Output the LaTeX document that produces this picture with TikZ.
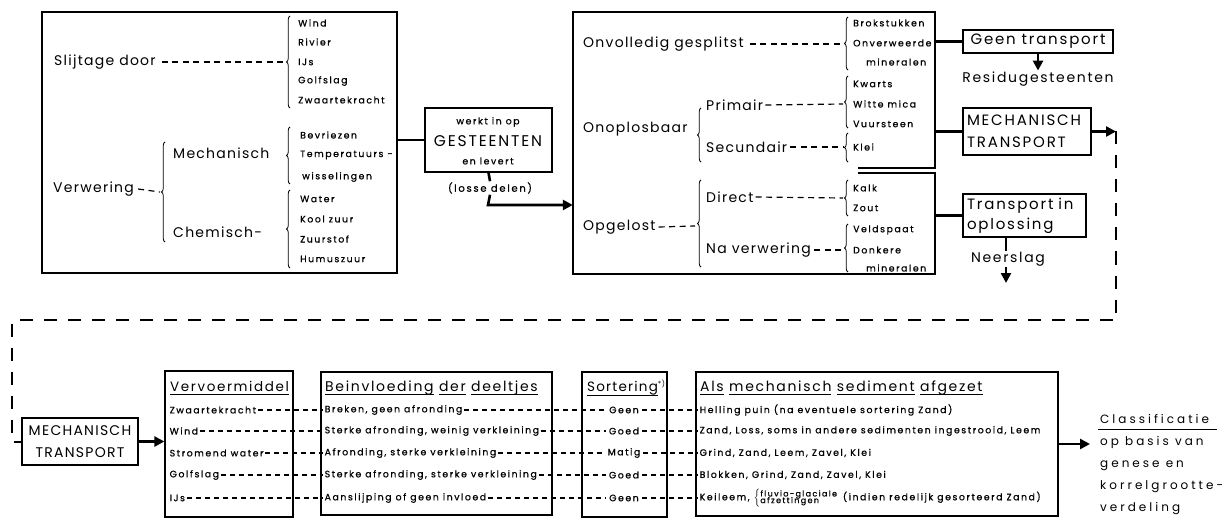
\documentclass[tikz,border=0pt]{standalone}
\usepackage{fontspec}
\setmainfont{Poppins}
\newfontfamily\lblf[LetterSpace=9]{Poppins}
\newfontfamily\hdrf[LetterSpace=12]{Poppins}
\newfontfamily\smlf[LetterSpace=17,FakeBold=0.8]{Poppins}
\newfontfamily\clsf[LetterSpace=25]{Poppins}
\newcommand{\uln}[1]{\setbox0\hbox{#1}\rlap{\rule[-4pt]{\wd0}{0.9pt}}\box0}
\usetikzlibrary{arrows.meta,decorations.pathreplacing}
\tikzset{
  lab/.style={inner sep=0pt, anchor=west, font=\lblf\fontsize{14}{16}\selectfont},
  itm/.style={inner sep=0pt, anchor=west, font=\smlf\fontsize{9.3}{11}\selectfont},
  row/.style={inner sep=1.5pt, anchor=west, font=\smlf\fontsize{9.3}{11}\selectfont},
  hdr/.style={inner sep=0pt, anchor=west, font=\hdrf\fontsize{14}{16}\selectfont},
  tbox/.style={draw, line width=1.3pt, inner sep=0pt, font=\hdrf\fontsize{15}{17}\selectfont},
  box/.style={draw, line width=1.3pt, inner sep=0pt},
  conn/.style={line width=2.6pt},
  arr/.style={line width=2.6pt, -{Triangle[length=10pt,width=10pt]}},
  dsh/.style={line width=1.2pt, dash pattern=on 6pt off 4.5pt},
  rdsh/.style={line width=1.1pt, dash pattern=on 5pt off 4pt},
  brc/.style={decorate, decoration={brace, amplitude=3.5pt}, line width=0.8pt},
  bigdash/.style={line width=2pt, dash pattern=on 13pt off 11pt},
}
\begin{document}
\begin{tikzpicture}[x=1pt,y=-1pt]
\useasboundingbox (0,0) rectangle (1225,521);

% ---------- Box 1 ----------
\node[box, minimum width=355, minimum height=261] (b1) at (219.5,142.5) {};
\node[lab] (slij) at (54,62) {Slijtage door};
\coordinate (br1) at (285,62);
\draw[dsh] (slij.east) ++(6,0) -- (br1);
\draw[brc] (290,108) -- (290,16);
\node[itm] (w1) at (298,23) {Wind};
\node[itm] (w2) at (298,42) {Rivier};
\node[itm] (w3) at (298,62) {IJs};
\node[itm] (w4) at (298,81) {Golfslag};
\node[itm] (w5) at (298,100) {Zwaartekracht};

\node[lab] (verw) at (53,189) {Verwering};
\coordinate (br2) at (160,192);
\draw[dsh] (verw.east) ++(4,0) -- (br2);
\draw[brc] (165,242) -- (165,142);
\node[lab] (mech) at (173,153) {Mechanisch};
\node[lab] (chem) at (173,232) {Chemisch-};
\draw[brc] (290,184) -- (290,127);
\node[itm] (m1) at (300,135) {Bevriezen};
\node[itm] (m2) at (300,155) {Temperatuurs -};
\node[itm] (m3) at (302,177) {wisselingen};
\draw[brc] (290,268) -- (290,190);
\node[itm] (c1i) at (300,199) {Water};
\node[itm] (c2i) at (300,219) {Kool zuur};
\node[itm] (c3i) at (300,239) {Zuurstof};
\node[itm] (c4i) at (300,259) {Humuszuur};

% ---------- GESTEENTEN ----------
\node[box, minimum width=127, minimum height=64] (gest) at (488.5,140) {};
\node[inner sep=0pt, font=\smlf\fontsize{9.3}{11}\selectfont] (g1) at (488,122) {werkt in op};
\node[inner sep=0pt, font=\hdrf\fontsize{15.5}{17}\selectfont] (g2) at (488,141) {GESTEENTEN};
\node[inner sep=0pt, font=\smlf\fontsize{9.3}{11}\selectfont] (g3) at (488,161) {en levert};
\draw[conn] (b1.east |- gest.west) -- (gest.west);
\node[inner sep=1pt, font=\smlf\fontsize{10}{11}\selectfont] (losse) at (490,188) {(losse delen)};

% ---------- Box 2 ----------
\node[inner sep=0pt, minimum width=362, minimum height=262] (b2) at (754,143) {};
\draw[line width=1.3pt] (858,168) -- (935,168) -- (935,12) -- (573,12) -- (573,274) -- (935,274) -- (935,173) -- (858,173);
\coordinate (lossebend) at (488,205);
\draw[conn] (gest.south) -- (losse.north);
\draw[arr] (losse.south) -- (lossebend) -- (b2.west |- lossebend);

\node[lab] (onv) at (583,44) {Onvolledig gesplitst};
\coordinate (br3) at (843,44);
\draw[dsh] (onv.east) ++(6,0) -- (br3);
\draw[brc] (848,70) -- (848,17);
\node[itm] (o1) at (853,23) {Brokstukken};
\node[itm] (o2) at (853,43) {Onverweerde};
\node[itm] (o3) at (866,62) {mineralen};

\node[lab] (onop) at (583,129) {Onoplosbaar};
\draw[brc] (701,162) -- (701,108);
\node[lab] (prim) at (706,105) {Primair};
\coordinate (br4) at (843,104);
\draw[dsh] (prim.east) ++(2,0) -- (br4);
\draw[brc] (848,128) -- (848,76);
\node[itm] (p1) at (853,84) {Kwarts};
\node[itm] (p2) at (853,104) {Witte mica};
\node[itm] (p3) at (853,124) {Vuursteen};
\node[lab] (sec) at (706,147) {Secundair};
\coordinate (br5) at (843,147);
\draw[dsh] (sec.east) ++(3,0) -- (br5);
\draw[brc] (848,162) -- (848,133);
\node[itm] (s1) at (853,147) {Klei};

\node[lab] (opg) at (583,227) {Opgelost};
\coordinate (br6) at (695,226);
\draw[dsh] (opg.east) ++(3,0) -- (br6);
\draw[brc] (701,267) -- (701,180);
\node[lab] (dir) at (706,197) {Direct};
\coordinate (br7) at (843,198);
\draw[dsh] (dir.east) ++(2,0) -- (br7);
\draw[brc] (848,216) -- (848,180);
\node[itm] (d1) at (853,188) {Kalk};
\node[itm] (d2) at (853,208) {Zout};
\node[lab] (nav) at (706,250) {Na verwering};
\coordinate (br8) at (843,250);
\draw[dsh] (nav.east) ++(3,0) -- (br8);
\draw[brc] (848,272) -- (848,224);
\node[itm] (n1) at (853,230) {Veldspaat};
\node[itm] (n2) at (853,250) {Donkere};
\node[itm] (n3) at (866,268) {mineralen};

% ---------- Right column ----------
\node[tbox, minimum width=150, minimum height=23] (geen) at (1038,41.5) {Geen transport};
\draw[conn] (b2.east |- geen.west) -- (geen.west);
\node[inner sep=1pt, font=\hdrf\fontsize{14}{16}\selectfont] (resid) at (1038,79) {Residugesteenten};
\draw[arr] (geen.south) -- (resid.north);

\node[tbox, minimum width=128, minimum height=47, align=left, text width=120] (mt1) at (1027,131.5) {MECHANISCH\\[5pt]TRANSPORT};
\draw[conn] (b2.east |- mt1.west) -- (mt1.west);

\node[tbox, minimum width=123, minimum height=43, align=left, text width=115] (tio) at (1024.5,215.5) {Transport in\\[3pt]oplossing};
\draw[conn] (b2.east |- tio.west) -- (tio.west);
\node[inner sep=1pt, font=\hdrf\fontsize{14}{16}\selectfont] (neer) at (1008,259) {Neerslag};
\coordinate (neerend) at (1006,283);
\draw[conn] (tio.south -| neerend) -- (neer.north -| neerend);
\draw[arr] (neer.south -| neerend) -- (neerend);

% ---------- dashed route ----------
\node[box, minimum width=116, minimum height=47, align=center, font=\lblf\fontsize{14}{16}\selectfont] (mt2) at (80,441.5) {MECHANISCH\\[6pt]TRANSPORT};
\coordinate (c1) at (1116,131.5);
\coordinate (c2) at (1116,320);
\coordinate (c3) at (12,320);
\coordinate (c4) at (12,441.5);
\draw[arr] (mt1.east) -- (c1);
\draw[bigdash] (c1) -- (c2) -- (c3) -- (c4) -- (mt2.west);

% ---------- bottom table ----------
\node[box, minimum width=128, minimum height=146] (vv) at (229,444) {};
\node[box, minimum width=231, minimum height=143] (bi) at (436.5,443.5) {};
\node[box, minimum width=85, minimum height=145] (so) at (624.5,444.5) {};
\node[box, minimum width=362, minimum height=144] (als) at (877,444) {};
\draw[arr] (mt2.east) -- (vv.west |- mt2.east);

\node[hdr, font=\hdrf\fontsize{13.5}{16}\selectfont] (vvh) at (170,388) {\uln{Vervoermiddel}};
\node[hdr] (bih) at (325,388) {\uln{Beinvloeding}\ \uln{der}\ \uln{deeltjes}};
\node[hdr, font=\lblf\fontsize{13.5}{16}\selectfont] (soh) at (587,388) {\uln{Sortering}\textsuperscript{\fontsize{7}{7}\selectfont*)}};
\node[hdr] (alsh) at (700,388) {\uln{Als}\ \uln{mechanisch}\ \uln{sediment}\ \uln{afgezet}};

\node[row] (v1) at (168,410) {Zwaartekracht};
\node[row] (v2) at (168,431) {Wind};
\node[row] (v3) at (168,453) {Stromend water};
\node[row] (v4) at (168,475) {Golfslag};
\node[row] (v5) at (168,498) {IJs};

\node[row] (e1) at (323,410) {Breken, geen afronding};
\node[row] (e2) at (323,431) {Sterke afronding, weinig verkleining};
\node[row] (e3) at (323,453) {Afronding, sterke verkleining};
\node[row] (e4) at (323,475) {Sterke afronding, sterke verkleining};
\node[row] (e5) at (323,498) {Aanslijping of geen invloed};

\node[row, anchor=center, inner sep=3pt] (s1r) at (624,410) {Geen};
\node[row, anchor=center, inner sep=3pt] (s2r) at (624,431) {Goed};
\node[row, anchor=center, inner sep=3pt] (s3r) at (624,453) {Matig};
\node[row, anchor=center, inner sep=3pt] (s4r) at (624,475) {Goed};
\node[row, anchor=center, inner sep=3pt] (s5r) at (624,498) {Geen};

\node[row] (a1) at (698,410) {Helling puin (na eventuele sortering Zand)};
\node[row] (a2) at (698,431) {Zand, Loss, soms in andere sedimenten ingestrooid, Leem};
\node[row] (a3) at (698,453) {Grind, Zand, Leem, Zavel, Klei};
\node[row] (a4) at (698,475) {Blokken, Grind, Zand, Zavel, Klei};
\node[row] (a5) at (698,498) {Keileem, $\left\{\vcenter{\hbox{\smlf\fontsize{8}{8.5}\selectfont\begin{tabular}{@{}l@{}}fluvio-glaciale\\[-2pt]afzettingen\end{tabular}}}\right.$\enspace (indien redelijk gesorteerd Zand)};

\foreach \i in {1,...,5}{
  \draw[rdsh] (v\i.east) -- (e\i.west);
  \draw[rdsh] (e\i.east) -- (s\i r.west);
  \draw[rdsh] (s\i r.east) -- (a\i.west);
}

\node[inner sep=0pt, anchor=north west, align=left, font=\clsf\fontsize{12}{22}\selectfont] (cls) at (1100,414) {Classificatie\\op basis van\\genese en\\korrelgrootte-\\verdeling};
\coordinate (clsin) at (1090,444);
\draw[line width=1pt] (1098,429) -- (1217,429);
\draw[arr] (als.east) -- (clsin);
\end{tikzpicture}
\end{document}
